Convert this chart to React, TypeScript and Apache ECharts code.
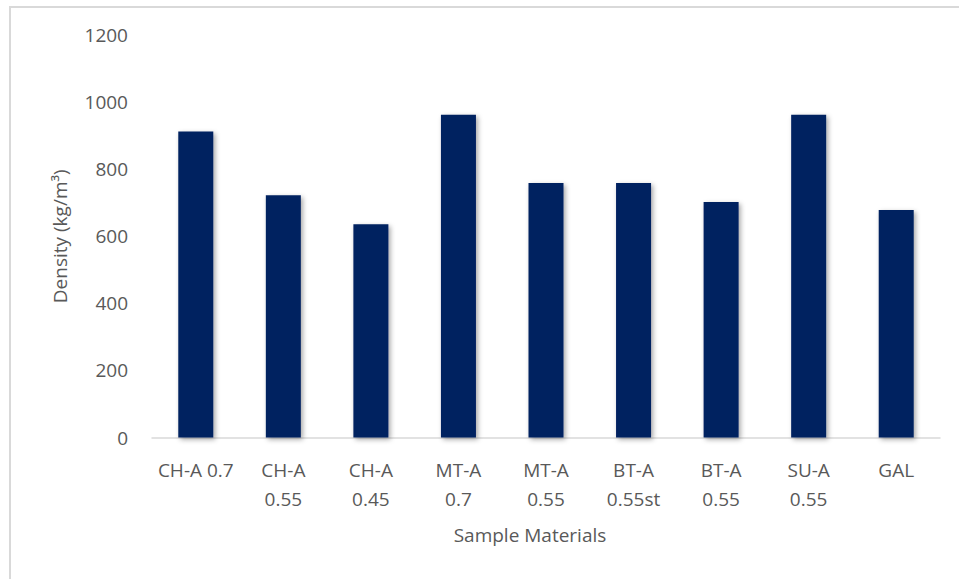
import React, { useEffect, useRef } from "react";
import * as echarts from "echarts";

// Sample names as shown under each bar (line breaks where the label wraps)
const categories: string[] = [
  "CH-A 0.7",
  "CH-A\n0.55",
  "CH-A\n0.45",
  "MT-A\n0.7",
  "MT-A\n0.55",
  "BT-A\n0.55st",
  "BT-A\n0.55",
  "SU-A\n0.55",
  "GAL",
];

// Density in kg/m³
const density: number[] = [912, 722, 636, 962, 759, 759, 702, 962, 678];

const yMin = 0;
const yMax = 1200;
const yStep = 200;

const textColor = "#595959";
const font = "'Open Sans', 'Noto Sans', sans-serif";

export default function App() {
  const ref = useRef<HTMLDivElement>(null);

  useEffect(() => {
    document.body.style.margin = "0";
    if (!ref.current) return;
    const chart = echarts.init(ref.current, undefined, { renderer: "svg" });
    chart.setOption({
      animation: false,
      backgroundColor: "#ffffff",
      textStyle: { fontFamily: font },
      grid: { left: 152, right: 19, top: 35, bottom: 141.5, containLabel: false },
      graphic: [
        {
          type: "rect",
          shape: { x: 10, y: 7, width: 970, height: 600 },
          style: { fill: "none", stroke: "#d9d9d9", lineWidth: 2 },
          silent: true,
        },
      ],
      xAxis: {
        type: "category",
        data: categories,
        name: "Sample Materials",
        nameLocation: "middle",
        nameGap: 88,
        nameTextStyle: {
          color: textColor,
          fontSize: 19,
          fontFamily: font,
          padding: [0, 32, 0, 0],
        },
        axisLine: { show: true, lineStyle: { color: "#d9d9d9", width: 1.5 } },
        axisTick: { show: false },
        axisLabel: {
          color: textColor,
          fontSize: 19,
          fontFamily: font,
          lineHeight: 29,
          margin: 18,
          interval: 0,
        },
      },
      yAxis: {
        type: "value",
        min: yMin,
        max: yMax,
        interval: yStep,
        name: "Density (kg/m³)",
        nameLocation: "middle",
        nameGap: 83,
        nameRotate: 90,
        nameTextStyle: { color: textColor, fontSize: 19, fontFamily: font },
        axisLine: { show: false },
        axisTick: { show: false },
        splitLine: { show: false },
        axisLabel: {
          color: textColor,
          fontSize: 19,
          fontFamily: font,
          margin: 24,
          formatter: (v: number) => String(v),
        },
      },
      series: [
        {
          type: "bar",
          data: density,
          barWidth: 35,
          itemStyle: {
            color: "#002060",
            shadowColor: "rgba(0,0,0,0.35)",
            shadowBlur: 5,
            shadowOffsetX: 2,
            shadowOffsetY: 2,
          },
        },
      ],
    });
    return () => chart.dispose();
  }, []);

  return <div ref={ref} style={{ width: 959, height: 579 }} />;
}
